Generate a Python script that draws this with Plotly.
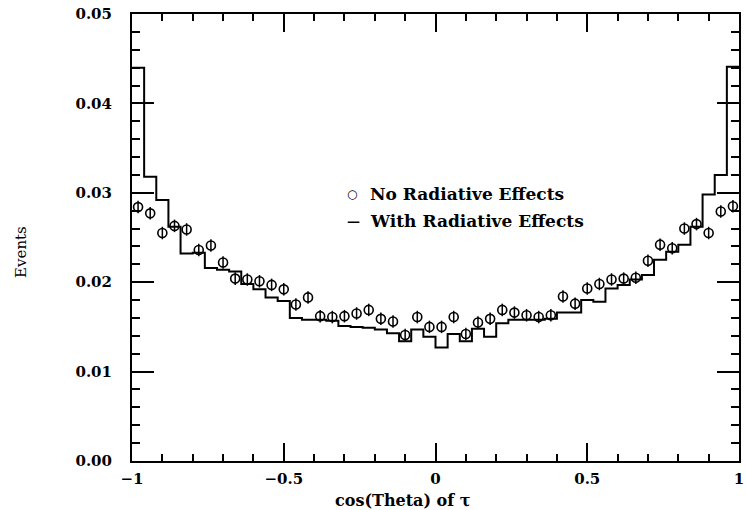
import numpy as np
import plotly.graph_objects as go

# Bin layout: 50 bins of width 0.04 on [-1, 1]
bin_edges = np.round(np.linspace(-1.0, 1.0, 51), 2)
bin_centers = np.round((bin_edges[:-1] + bin_edges[1:]) / 2, 2)

# No Radiative Effects (points)
no_rad = [0.0284, 0.0277, 0.0255, 0.0263, 0.0259, 0.0236, 0.0241, 0.0222, 0.0204, 0.0203,
          0.0201, 0.0197, 0.0192, 0.0175, 0.0183, 0.0162, 0.0161, 0.0162, 0.0165, 0.0169,
          0.0159, 0.0156, 0.0141, 0.0161, 0.0150,
          0.0150, 0.0161, 0.0142, 0.0155, 0.0159, 0.0169, 0.0166, 0.0163, 0.0161, 0.0163,
          0.0184, 0.0176, 0.0193, 0.0198, 0.0203, 0.0204, 0.0205, 0.0224, 0.0242, 0.0238,
          0.0260, 0.0265, 0.0255, 0.0279, 0.0285]
no_rad_err = [0.0007] * 50

# With Radiative Effects (histogram)
with_rad = [0.0440, 0.0318, 0.0292, 0.0262, 0.0232, 0.0233, 0.0216, 0.0214, 0.0212, 0.0198,
            0.0192, 0.0183, 0.0179, 0.0160, 0.0158, 0.0158, 0.0157, 0.0151, 0.0150, 0.0149,
            0.0147, 0.0143, 0.0134, 0.0147, 0.0139,
            0.0127, 0.0142, 0.0134, 0.0148, 0.0139, 0.0154, 0.0158, 0.0158, 0.0158, 0.0159,
            0.0166, 0.0166, 0.0180, 0.0178, 0.0193, 0.0197, 0.0203, 0.0208, 0.0225, 0.0234,
            0.0242, 0.0262, 0.0298, 0.0320, 0.0441]

FONT = "DejaVu Serif"

fig = go.Figure()

fig.add_trace(go.Scatter(
    x=list(bin_edges), y=with_rad + [with_rad[-1]],
    mode="lines", line=dict(shape="hv", color="black", width=2),
    name="With Radiative Effects", showlegend=False, hoverinfo="skip"))

fig.add_trace(go.Scatter(
    x=list(bin_centers), y=no_rad, mode="markers",
    marker=dict(symbol="circle-open", size=9, color="black", line=dict(width=1.6, color="black")),
    error_y=dict(type="data", array=no_rad_err, visible=True, width=0, thickness=1.5, color="black"),
    name="No Radiative Effects", showlegend=False))

L, R, T, B = 132, 2, 14, 49
W, H = 746, 510
pw, ph = W - L - R, H - T - B

def px(xp):
    return (xp - L) / pw

def py(yp):
    return (H - B - yp) / ph

axis_common = dict(
    showline=True, linecolor="black", linewidth=2, mirror="ticks",
    ticks="inside", tickcolor="black", tickwidth=1.5,
    showgrid=False, zeroline=False, ticklabeloverflow="allow",
    tickfont=dict(family=FONT, size=15, color="black", weight="bold"),
)

fig.update_xaxes(
    range=[-1, 1], tick0=-1, dtick=0.5, ticklen=18,
    minor=dict(ticks="inside", dtick=0.1, ticklen=7, tickwidth=1.5, tickcolor="black"),
    ticklabelstandoff=3,
    **axis_common)
fig.update_yaxes(
    range=[0, 0.05], tick0=0, dtick=0.01, tickformat=".2f", ticklen=22,
    minor=dict(ticks="inside", dtick=0.002, ticklen=8, tickwidth=1.5, tickcolor="black"),
    ticklabelstandoff=15,
    **axis_common)

annos = [
    dict(text="○", x=px(354), y=py(194), font=dict(family="DejaVu Sans", size=12, color="black"),
         xanchor="center", yanchor="middle"),
    dict(text="<b>No Radiative Effects</b>", x=px(370), y=py(194), font=dict(family=FONT, size=17, color="black"),
         xanchor="left", yanchor="middle"),
    dict(text="<b>—</b>", x=px(355), y=py(221), font=dict(family=FONT, size=13, color="black"),
         xanchor="center", yanchor="middle"),
    dict(text="<b>With Radiative Effects</b>", x=px(370), y=py(221), font=dict(family=FONT, size=17, color="black"),
         xanchor="left", yanchor="middle"),
    dict(text="<b>cos(Theta) of τ</b>", x=px(405), y=py(500), font=dict(family=FONT, size=16, color="black"),
         xanchor="center", yanchor="middle"),
    dict(text="Events", x=px(20), y=py(252), textangle=-90, font=dict(family=FONT, size=15, color="black"),
         xanchor="center", yanchor="middle"),
]
for a in annos:
    a.update(xref="paper", yref="paper", showarrow=False)

fig.update_layout(
    width=W, height=H, margin=dict(l=L, r=R, t=T, b=B),
    paper_bgcolor="white", plot_bgcolor="white",
    annotations=annos, showlegend=False)

fig.write_html("out.html")
